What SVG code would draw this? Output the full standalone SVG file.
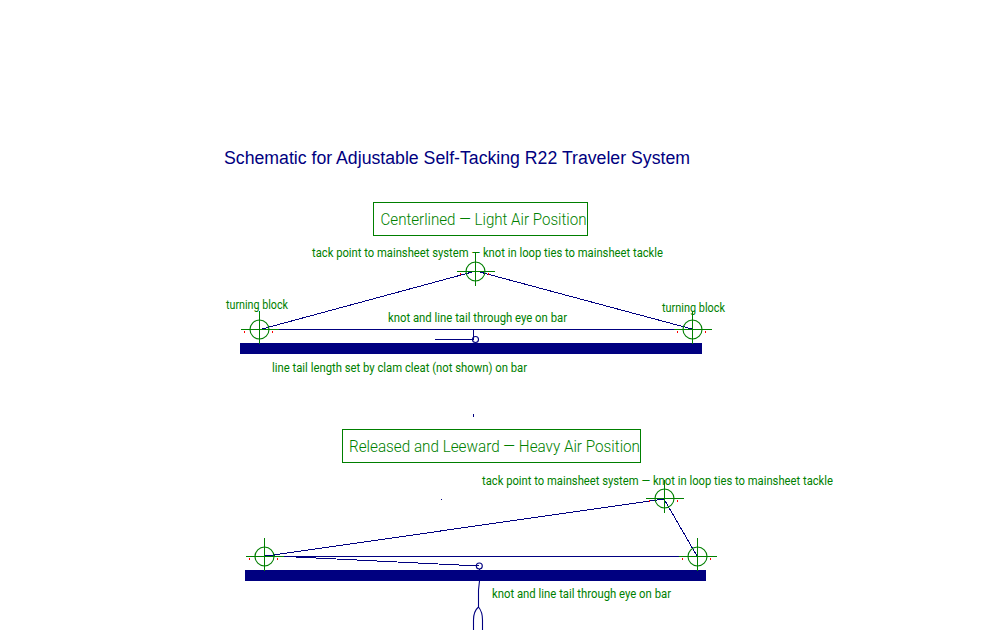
<svg xmlns="http://www.w3.org/2000/svg" width="1004" height="630" viewBox="0 0 1004 630">
<style>
text{font-family:"Roboto","Liberation Sans",sans-serif;font-weight:400;fill:#007f00}
.title{font-family:"Liberation Sans",Arial,sans-serif;font-weight:400;fill:#000080;font-size:18px}
.s{font-size:13px}
.b{font-size:17px;font-weight:300}
.g{fill:none;stroke:#007f00;stroke-width:1;shape-rendering:crispEdges}
.c{fill:none;stroke:#007f00;stroke-width:1.1}
.n{fill:none;stroke:#000080;stroke-width:1;shape-rendering:crispEdges}
.o{fill:none;stroke:#000080;stroke-width:1.1}
.r{stroke:#ff0000;stroke-width:1;fill:none;shape-rendering:crispEdges}
.bar{fill:#000080}
.dot{fill:#000080}
</style>
<defs>
<g id="block">
<circle class="c" r="9.5"/>
<path class="g" d="M-19 0H19M0 -19V14"/>
<path class="r" d="M-15 1V3.500M13 1V3.500"/>
</g>
</defs>
<rect width="1004" height="630" fill="#ffffff"/>
<text class="title" x="224" y="164" textLength="466" lengthAdjust="spacingAndGlyphs">Schematic for Adjustable Self-Tacking R22 Traveler System</text>

<g id="bars">
<rect class="bar" x="240" y="343" width="462" height="11"/>
<rect class="bar" x="245" y="570" width="461" height="11"/>
</g>

<g id="connectors">
<path class="n" d="M262 329 L476 271 L692 329"/>
<path class="n" d="M260 329.500H692"/>
<path class="n" d="M473.500 329.500V339.500H435"/>
<circle class="o" cx="475.500" cy="339.500" r="3"/>
<path class="n" d="M266 556 L664 499 L697 556"/>
<path class="n" d="M264 556.500H697"/>
<path class="n" d="M265 555.500 L479 566"/>
<circle class="o" cx="479.300" cy="566" r="3"/>
<path class="o" d="M479.500 569V581L478.500 590V607C475 610 473.500 615 473.500 620V630M478.500 607C481 610 482.500 615 482.500 620V630"/>
<rect class="dot" x="473" y="414" width="1" height="3"/>
<rect class="dot" x="441" y="499" width="1" height="1"/>
</g>

<g id="block-top-left"><use href="#block" x="259.500" y="329.500"/></g>
<g id="block-top-apex"><use href="#block" x="475.500" y="271.500"/></g>
<g id="block-top-right"><use href="#block" x="692.500" y="329.500"/></g>
<g id="block-low-left"><use href="#block" x="264.500" y="556.500"/></g>
<g id="block-low-apex"><use href="#block" x="664.500" y="498.500"/></g>
<g id="block-low-right"><use href="#block" x="697.500" y="556.500"/></g>

<g id="label-centerlined">
<rect class="g" x="373.500" y="202.500" width="214" height="33"/>
<text class="b" x="380.500" y="225" textLength="206" lengthAdjust="spacingAndGlyphs">Centerlined — Light Air Position</text>
</g>
<g id="label-released">
<rect class="g" x="342.500" y="429.500" width="298" height="33"/>
<text class="b" x="349" y="452" textLength="291" lengthAdjust="spacingAndGlyphs">Released and Leeward — Heavy Air Position</text>
</g>
<g id="labels">
<text class="s" x="312" y="257" textLength="351" lengthAdjust="spacingAndGlyphs">tack point to mainsheet system — knot in loop ties to mainsheet tackle</text>
<text class="s" x="226" y="309" textLength="62" lengthAdjust="spacingAndGlyphs">turning block</text>
<text class="s" x="662" y="312" textLength="63" lengthAdjust="spacingAndGlyphs">turning block</text>
<text class="s" x="388" y="322" textLength="179" lengthAdjust="spacingAndGlyphs">knot and line tail through eye on bar</text>
<text class="s" x="272" y="372" textLength="255" lengthAdjust="spacingAndGlyphs">line tail length set by clam cleat (not shown) on bar</text>
<text class="s" x="482" y="485" textLength="351" lengthAdjust="spacingAndGlyphs">tack point to mainsheet system — knot in loop ties to mainsheet tackle</text>
<text class="s" x="492" y="598" textLength="179" lengthAdjust="spacingAndGlyphs">knot and line tail through eye on bar</text>
</g>
</svg>
